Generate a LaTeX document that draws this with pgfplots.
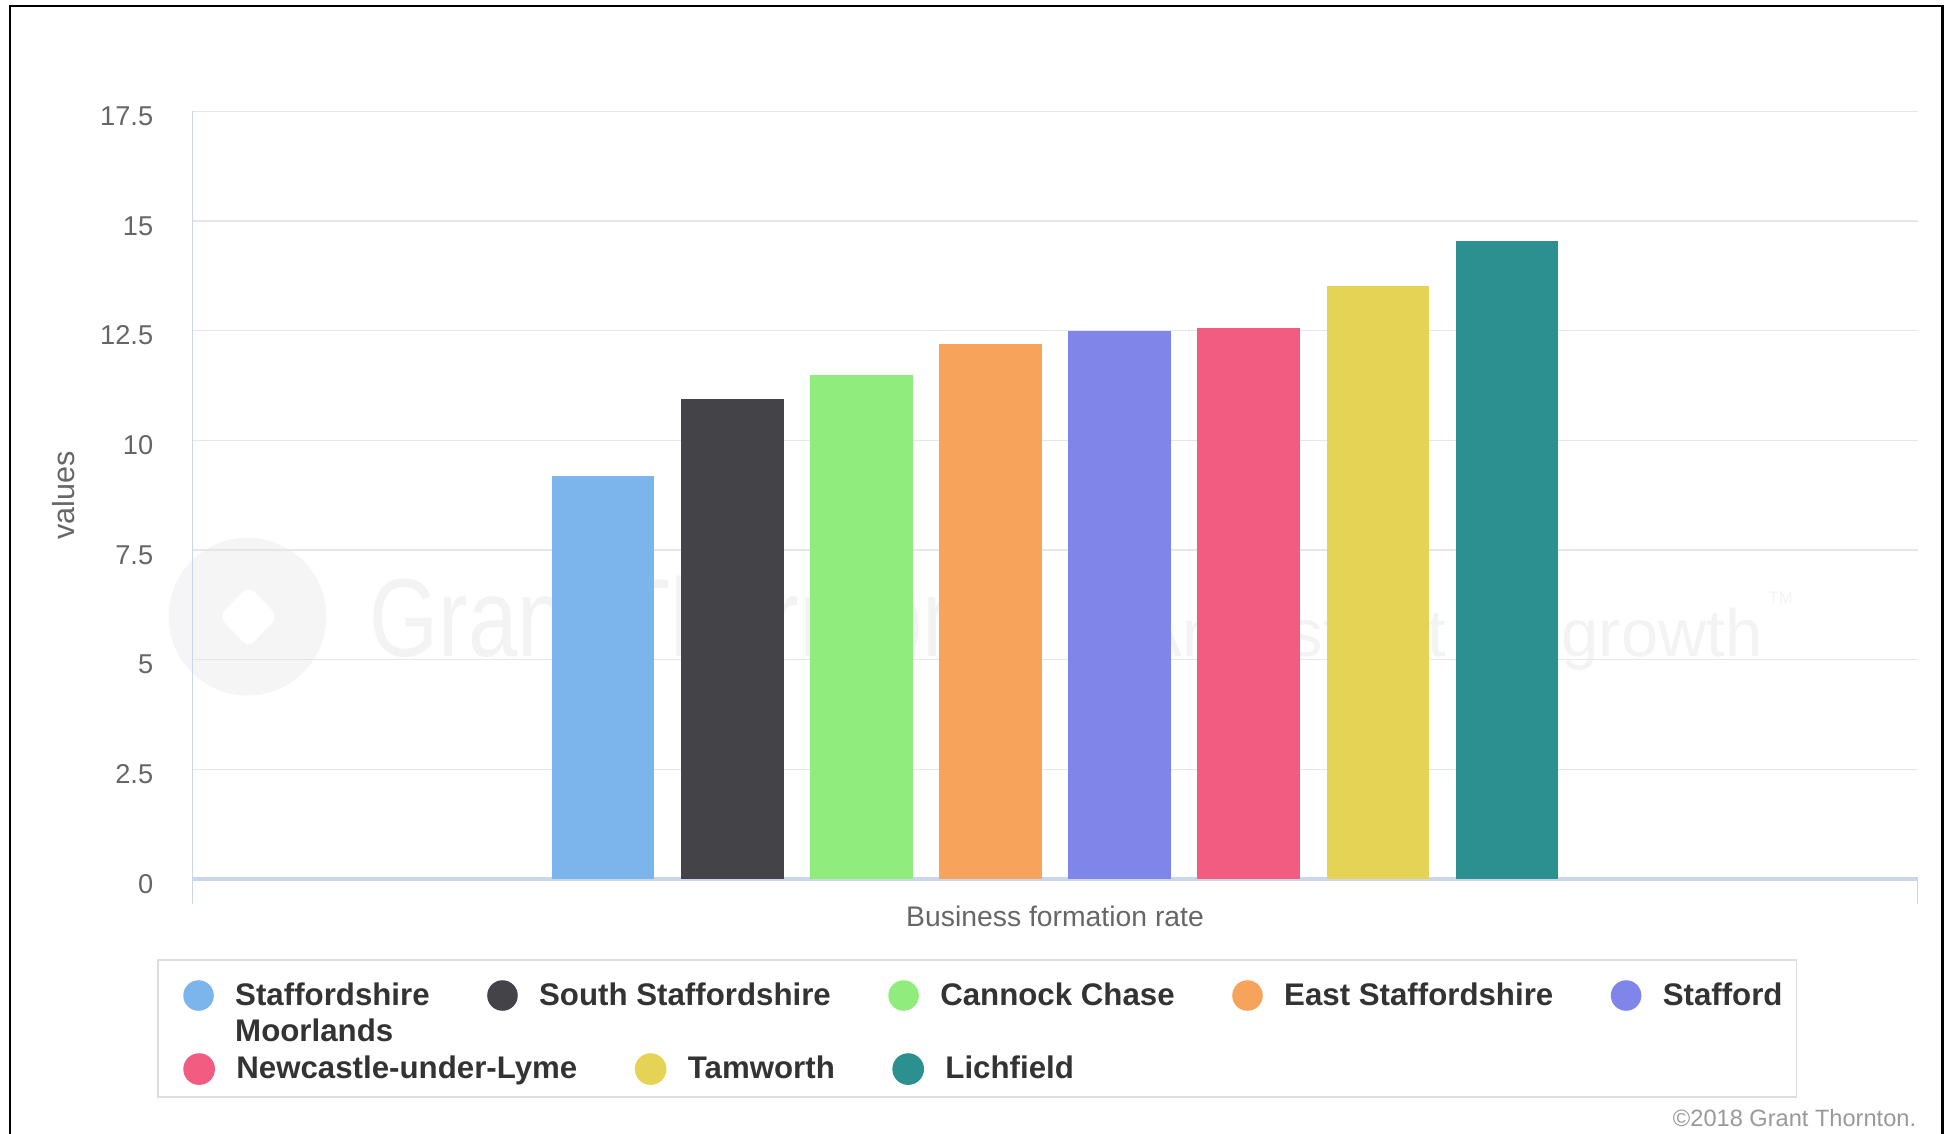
\documentclass[border=0pt]{standalone}
\usepackage{pgfplots}
\pgfplotsset{compat=1.18}
\usepackage{fontspec}
\setmainfont{Liberation Sans}
\usepackage{graphicx}
\definecolor{c1}{HTML}{7CB5EC}
\definecolor{c2}{HTML}{434348}
\definecolor{c3}{HTML}{90ED7D}
\definecolor{c4}{HTML}{F7A35C}
\definecolor{c5}{HTML}{8085E9}
\definecolor{c6}{HTML}{F15C80}
\definecolor{c7}{HTML}{E4D354}
\definecolor{c8}{HTML}{2B908F}
\definecolor{axisblue}{HTML}{CCD6EB}
\definecolor{gridgrey}{HTML}{E6E6E6}
\definecolor{labelgrey}{HTML}{666666}
\definecolor{legtext}{HTML}{333333}
\definecolor{wm}{HTML}{F3F3F3}
\definecolor{wmc}{HTML}{F5F5F5}
\definecolor{legframe}{HTML}{DDDDDD}
\definecolor{copygrey}{HTML}{999999}
\pgfplotsset{
  dot/.style={legend image code/.code={\fill[#1] (0pt,-0.6pt) circle (5.5pt);}},
  mylegend/.style={
    legend columns=-1,
    legend style={draw=none, fill=none, inner sep=0pt, outer sep=0pt, anchor=north west,
      font=\fontsize{11.25}{13.1}\selectfont\bfseries, text=legtext,
      cells={anchor=west},
      nodes={inner sep=0pt, text height=8.1pt, text depth=0pt},
      /tikz/every odd column/.append style={column sep=7.7pt},
      /tikz/every even column/.append style={column sep=20.7pt}},
  },
  geom/.style={at={(69.34pt,91.44pt)}, anchor=south west, scale only axis,
    width=620.96pt, height=276.3pt, xmin=-2.18, xmax=11.18, ymin=0, ymax=17.5},
  mybar/.style={ybar, bar width=0.794, bar shift=0pt, draw=none, fill=#1, dot=#1},
}
\begin{document}
\begin{tikzpicture}[x=1pt,y=1pt]
\useasboundingbox (0,0) rectangle (701.28,407.88);
% watermark
\fill[wmc] (89.1,185.9) circle (28.4);
\fill[white, rounded corners=3pt] (89.5,174.8) -- (100.1,185.9) -- (89.5,197.0) -- (78.9,185.9) -- cycle;
\node[anchor=base west, inner sep=0pt, text=wm, font=\fontsize{32}{32}\selectfont] at (132.8,171.5) {\scalebox{1}[1.25]{Grant Thornton}};
\node[anchor=base east, inner sep=0pt, text=wm, font=\fontsize{24.1}{25}\selectfont] at (634.7,171.5) {An instinct for growth};
\node[anchor=base west, inner sep=0pt, text=wm, font=\fontsize{6}{6}\selectfont] at (636.5,190.5) {TM};
\begin{axis}[geom,
  ytick={0,2.5,5,7.5,10,12.5,15,17.5},
  xtick=\empty,
  axis x line*=bottom, axis y line*=left,
  x axis line style={-, draw=axisblue, line width=1.2pt},
  y axis line style={-, draw=axisblue, line width=0.6pt},
  major tick length=0pt,
  ytick style={draw=none},
  ymajorgrids, grid style={draw=gridgrey, line width=0.5pt},
  /pgf/number format/assume math mode=true,
  yticklabel style={font=\fontsize{9.8}{11}\selectfont, text=labelgrey, anchor=east, inner sep=0pt, xshift=-14pt, yshift=-1.7pt},
  ylabel={values}, xlabel={Business formation rate},
  every axis y label/.style={at={(axis description cs:-0.075,0.5)}, rotate=90, anchor=center, font=\fontsize{11}{12}\selectfont, text=labelgrey},
  every axis x label/.style={at={(axis description cs:0.5,-0.0621)}, anchor=base, font=\fontsize{10.2}{12}\selectfont, text=labelgrey},
  mylegend,
  legend style={at={(-0.0054,-0.1319)}},
  after end axis/.code={
    \draw[axisblue, line width=0.6pt] (rel axis cs:1,0) -- ++(0pt,-9pt);
    \draw[axisblue, line width=0.6pt] (rel axis cs:0,0) -- ++(0pt,-9pt);
  },
]
\addplot[mybar=c1] coordinates {(1,9.2)};
\addplot[mybar=c2] coordinates {(2,10.95)};
\addplot[mybar=c3] coordinates {(3,11.5)};
\addplot[mybar=c4] coordinates {(4,12.2)};
\addplot[mybar=c5] coordinates {(5,12.5)};
\addplot[mybar=c6] coordinates {(6,12.56)};
\addplot[mybar=c7] coordinates {(7,13.53)};
\addplot[mybar=c8] coordinates {(8,14.55)};
\legend{{\rlap{\raisebox{-13.1pt}[0pt][0pt]{Moorlands}}Staffordshire},South Staffordshire,Cannock Chase,East Staffordshire,Stafford}
\end{axis}
\begin{axis}[geom, hide axis, mylegend, legend style={at={(-0.0054,-0.2270)}}]
\addlegendimage{dot=c6}
\addlegendentry{Newcastle-under-Lyme}
\addlegendimage{dot=c7}
\addlegendentry{Tamworth}
\addlegendimage{dot=c8}
\addlegendentry{Lichfield}
\end{axis}
\draw[legframe, line width=0.5pt] (56.9,12.96) rectangle (646.8,62.28);
\node[anchor=base east, inner sep=0pt, text=copygrey, font=\fontsize{8.5}{10}\selectfont] at (690.0,2.52) {©2018 Grant Thornton.};
\draw[black, line width=0.8pt] (3.6,-1) -- (3.6,405.7) -- (699.3,405.7) -- (699.3,-1);
\end{tikzpicture}
\end{document}
